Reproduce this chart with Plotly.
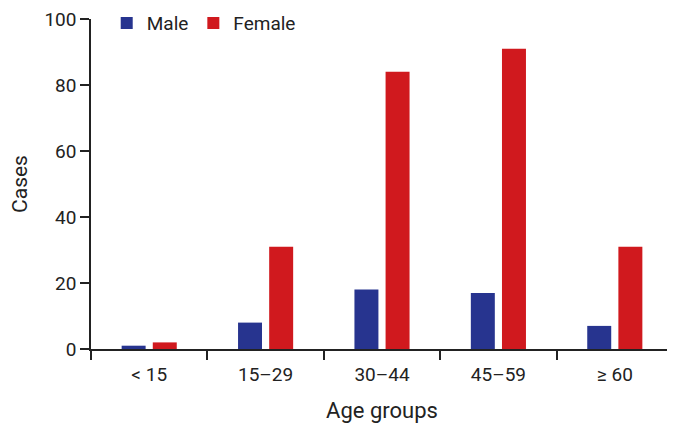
import plotly.graph_objects as go

categories = ["< 15", "15\u201329", "30\u201344", "45\u201359", "\u2265 60"]
male = [1, 8, 18, 17, 7]
female = [2, 31, 84, 91, 31]
y_ticks = [0, 20, 40, 60, 80, 100]

MALE_COLOR = "#27348f"
FEMALE_COLOR = "#d0191e"
FONT = "Roboto, Liberation Sans, sans-serif"
TXT = "#222222"

fig = go.Figure()
fig.add_trace(go.Bar(name="Male", x=categories, y=male, marker_color=MALE_COLOR, marker_line_width=0))
fig.add_trace(go.Bar(name="Female", x=categories, y=female, marker_color=FEMALE_COLOR, marker_line_width=0))

# page body adds an 8px offset; figure is sized to compensate
fig.update_layout(
    width=667, height=417,
    margin=dict(l=83, r=2, t=11, b=76, autoexpand=False),
    paper_bgcolor="white", plot_bgcolor="white",
    barmode="group", bargap=0.465, bargroupgap=0.23,
    font=dict(family=FONT, size=18, color=TXT),
    showlegend=True,
    legend=dict(orientation="h", x=0.027, y=1.045, xanchor="left", yanchor="top",
                font=dict(size=19, color=TXT), bgcolor="rgba(0,0,0,0)",
                itemwidth=30, traceorder="normal"),
)
fig.update_xaxes(
    type="category", range=[-0.5, 4.5], automargin=False,
    showline=True, linecolor="#222222", linewidth=1.5,
    ticks="outside", tickson="boundaries", ticklen=9, tickwidth=1.5, tickcolor="#222222",
    showgrid=False, zeroline=False,
    tickfont=dict(size=19, color=TXT), ticklabelstandoff=7,
    title=dict(text="Age groups", font=dict(size=22, color=TXT), standoff=18),
)
fig.update_yaxes(
    range=[0, 100], tickvals=y_ticks, automargin=False, ticklabeloverflow="allow",
    showline=True, linecolor="#222222", linewidth=1.5,
    ticks="outside", ticklen=9, tickwidth=1.5, tickcolor="#222222",
    showgrid=False, zeroline=False,
    tickfont=dict(size=19, color=TXT),
    title=dict(text="Cases", font=dict(size=21, color=TXT), standoff=35),
)

fig.write_html("out.html")
